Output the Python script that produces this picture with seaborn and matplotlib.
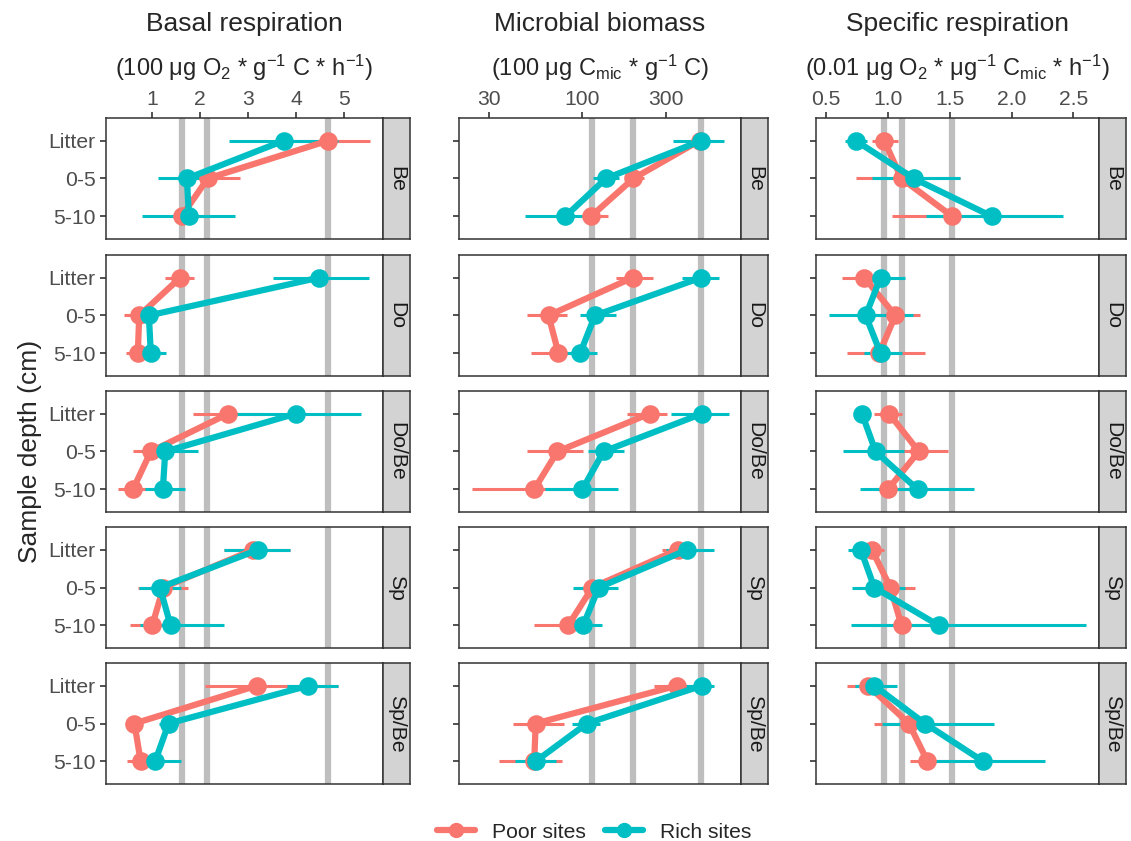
import numpy as np
import pandas as pd
import matplotlib
matplotlib.use("Agg")
import matplotlib.pyplot as plt
from matplotlib.lines import Line2D
from matplotlib.ticker import NullLocator, FixedLocator, FixedFormatter
import seaborn as sns

# categories
forests = ["Be", "Do", "Do/Be", "Sp", "Sp/Be"]
depths = ["Litter", "0-5", "5-10"]
sites = ["Poor sites", "Rich sites"]

# basal respiration (rows = forest, cols = depth)
basal_poor = [[4.66, 2.16, 1.62], [1.59, 0.74, 0.71], [2.59, 0.98, 0.61], [3.11, 1.24, 1.01], [3.18, 0.64, 0.77]]
basal_poor_lo = [[3.78, 1.49, 1.38], [1.28, 0.43, 0.47], [1.85, 0.62, 0.29], [2.49, 0.72, 0.55], [2.11, 0.50, 0.48]]
basal_poor_hi = [[5.54, 2.83, 2.08], [1.88, 1.07, 0.93], [3.33, 1.35, 0.93], [3.87, 1.75, 1.45], [4.87, 0.78, 1.05]]
basal_rich = [[3.74, 1.73, 1.77], [4.47, 0.94, 0.98], [3.99, 1.28, 1.23], [3.21, 1.17, 1.39], [4.25, 1.35, 1.07]]
basal_rich_lo = [[2.61, 1.12, 0.79], [3.52, 0.80, 0.83], [2.64, 0.79, 0.85], [2.49, 0.74, 0.76], [3.81, 1.14, 0.76]]
basal_rich_hi = [[4.87, 2.34, 2.73], [5.51, 1.08, 1.30], [5.34, 1.97, 1.69], [3.87, 1.60, 2.50], [4.87, 1.55, 1.60]]

# microbial biomass
bio_poor = [[463, 196, 113], [194, 65, 74], [242, 73, 54], [349, 115, 84], [345, 55, 54]]
bio_poor_lo = [[382, 180, 104], [156, 49, 52], [180, 49, 24], [284, 93, 54], [256, 41, 34]]
bio_poor_hi = [[561, 225, 140], [254, 83, 100], [303, 102, 85], [420, 140, 115], [430, 80, 77]]
bio_rich = [[473, 137, 81], [471, 119, 98], [478, 133, 101], [396, 125, 102], [478, 107, 55]]
bio_rich_lo = [[326, 116, 48], [368, 98, 80], [320, 108, 62], [300, 89, 80], [360, 88, 42]]
bio_rich_hi = [[640, 163, 105], [593, 156, 122], [676, 173, 161], [556, 161, 131], [561, 127, 72]]

# specific respiration
spec_poor = [[0.97, 1.11, 1.52], [0.81, 1.06, 0.93], [1.01, 1.25, 1.00], [0.87, 1.02, 1.11], [0.84, 1.17, 1.32]]
spec_poor_lo = [[0.87, 0.74, 1.03], [0.63, 0.87, 0.67], [0.89, 1.11, 0.88], [0.80, 0.75, 0.87], [0.67, 0.89, 1.18]]
spec_poor_hi = [[1.08, 1.58, 2.34], [1.04, 1.26, 1.30], [1.11, 1.49, 1.14], [0.97, 1.22, 1.34], [1.01, 1.40, 1.56]]
spec_rich = [[0.74, 1.21, 1.84], [0.94, 0.82, 0.94], [0.79, 0.90, 1.24], [0.78, 0.89, 1.41], [0.89, 1.30, 1.77]]
spec_rich_lo = [[0.65, 0.87, 1.31], [0.85, 0.52, 0.81], [0.77, 0.64, 0.77], [0.68, 0.71, 0.70], [0.73, 0.95, 1.30]]
spec_rich_hi = [[0.83, 1.58, 2.42], [1.14, 1.20, 1.11], [0.81, 1.13, 1.70], [0.86, 1.14, 2.60], [1.07, 1.86, 2.27]]

# reference lines (grey bands)
basal_ref = [1.63, 2.15, 4.66]
bio_ref = [115, 196, 473]
spec_ref = [0.97, 1.11, 1.52]

titles = ["Basal respiration", "Microbial biomass", "Specific respiration"]
units = [r"(100 μg O$_2$ * g$^{-1}$ C * h$^{-1}$)",
         r"(100 μg C$_{\mathrm{mic}}$ * g$^{-1}$ C)",
         r"(0.01 μg O$_2$ * μg$^{-1}$ C$_{\mathrm{mic}}$ * h$^{-1}$)"]
xticks = [[1, 2, 3, 4, 5], [30, 100, 300], [0.5, 1.0, 1.5, 2.0, 2.5]]
xticklabels = [["1", "2", "3", "4", "5"], ["30", "100", "300"], ["0.5", "1.0", "1.5", "2.0", "2.5"]]
xlims = [(0.05, 5.8), (20.3, 794), (0.418, 2.708)]

metrics = [
    (basal_poor, basal_poor_lo, basal_poor_hi, basal_rich, basal_rich_lo, basal_rich_hi, basal_ref),
    (bio_poor, bio_poor_lo, bio_poor_hi, bio_rich, bio_rich_lo, bio_rich_hi, bio_ref),
    (spec_poor, spec_poor_lo, spec_poor_hi, spec_rich, spec_rich_lo, spec_rich_hi, spec_ref),
]

colors = {"Poor sites": "#F8766D", "Rich sites": "#00BFC4"}

sns.set_theme(style="white")
plt.rcParams['font.family'] = ['Liberation Sans', 'DejaVu Sans']
plt.rcParams['mathtext.fontset'] = 'custom'
plt.rcParams['mathtext.rm'] = 'Liberation Sans'
plt.rcParams['mathtext.it'] = 'Liberation Sans:italic'
plt.rcParams['mathtext.bf'] = 'Liberation Sans:bold'

W, H = 1131, 841
fig = plt.figure(figsize=(W / 100, H / 100), dpi=100)

col_x = [(106, 383), (459, 741), (816, 1099)]
row_y = [(118, 239), (255, 376), (391, 512), (527, 648), (663, 784)]
strip_w = 27
border = "#333333"


def rect(x0, x1, y0, y1):
    return [x0 / W, 1 - y1 / H, (x1 - x0) / W, (y1 - y0) / H]


for c, (m, (x0, x1)) in enumerate(zip(metrics, col_x)):
    poor, poor_lo, poor_hi, rich, rich_lo, rich_hi, ref = m
    for r, (y0, y1) in enumerate(row_y):
        ax = fig.add_axes(rect(x0, x1, y0, y1))
        rows = []
        for s, vals, lo, hi in [("Poor sites", poor, poor_lo, poor_hi), ("Rich sites", rich, rich_lo, rich_hi)]:
            for d, dep in enumerate(depths):
                rows.append({"site": s, "depth": dep, "value": vals[r][d], "lo": lo[r][d], "hi": hi[r][d]})
        df = pd.DataFrame(rows)

        for v in ref:
            ax.axvline(v, color="#BEBEBE", lw=4.5, zorder=0.5)

        # error bars
        for s in sites:
            sub = df[df.site == s]
            ypos = [depths.index(dep) for dep in sub.depth]
            ax.hlines(ypos, sub.lo, sub.hi, color=colors[s], lw=2.2, zorder=1.5)

        sns.pointplot(data=df, x="value", y="depth", hue="site", order=depths, hue_order=sites,
                      palette=colors, orient="h", errorbar=None, markers="o",
                      markersize=10, linewidth=4.5, legend=False, ax=ax)

        if c == 1:
            ax.set_xscale("log")
        ax.set_xlim(*xlims[c])
        ax.set_ylim(2.6, -0.6)
        ax.xaxis.set_major_locator(FixedLocator(xticks[c]))
        ax.xaxis.set_major_formatter(FixedFormatter(xticklabels[c]))
        ax.xaxis.set_minor_locator(NullLocator())
        ax.set_xlabel("")
        ax.set_ylabel("")
        ax.grid(False)
        for sp in ax.spines.values():
            sp.set_color(border)
            sp.set_linewidth(1.1)

        ax.tick_params(axis="y", length=4.5, width=1.2, color=border, labelsize=15.2,
                       labelcolor="#4D4D4D", pad=3, left=True, labelleft=(c == 0))
        if r == 0:
            ax.tick_params(axis="x", length=4.5, width=1.2, color=border, labelsize=15.2,
                           labelcolor="#4D4D4D", pad=2, top=True, labeltop=True,
                           bottom=False, labelbottom=False)
        else:
            ax.tick_params(axis="x", top=False, bottom=False, labeltop=False, labelbottom=False)

        # strip on the right
        sax = fig.add_axes(rect(x1, x1 + strip_w, y0, y1))
        sax.set_facecolor("#D3D3D3")
        sax.set_xticks([])
        sax.set_yticks([])
        for sp in sax.spines.values():
            sp.set_color(border)
            sp.set_linewidth(1.1)
        sax.text(0.5, 0.5, forests[r], rotation=270, ha="center", va="center",
                 fontsize=15.2, color="#1A1A1A", transform=sax.transAxes)

    cx = (x0 + x1) / 2 / W
    fig.text(cx, 1 - 24 / H, titles[c], ha="center", va="center", fontsize=19)
    fig.text(cx, 1 - 68 / H, units[c], ha="center", va="center", fontsize=17)

fig.text(30 / W, 1 - 451 / H, "Sample depth (cm)", rotation=90, ha="center", va="center", fontsize=19)

handles = [Line2D([], [], color=colors[s], lw=4.5, marker="o", markersize=10) for s in sites]
fig.legend(handles, sites, loc="center", bbox_to_anchor=(594 / W, 1 - 832 / H), ncol=2,
           frameon=False, fontsize=15.2, handlelength=1.8, handletextpad=0.8, columnspacing=0.9)

fig.savefig("out.png", dpi=100)
